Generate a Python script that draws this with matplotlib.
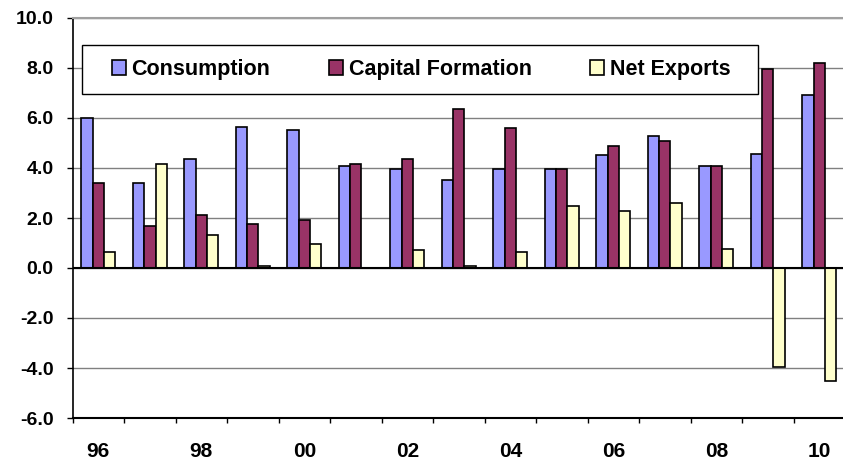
import matplotlib
matplotlib.use('Agg')
import matplotlib.pyplot as plt
from matplotlib.patches import Rectangle
import numpy as np

plt.rcParams['font.family'] = ['Liberation Sans', 'DejaVu Sans']
plt.rcParams['font.weight'] = 'bold'

# data (growth contributions, %)
years = ['96', '97', '98', '99', '00', '01', '02', '03', '04', '05', '06', '07', '08', '09', '10']
consumption = [6.0, 3.4, 4.37, 5.64, 5.5, 4.1, 3.96, 3.52, 3.96, 3.96, 4.51, 5.28, 4.09, 4.58, 6.92]
capital_formation = [3.4, 1.69, 2.11, 1.77, 1.91, 4.17, 4.37, 6.36, 5.59, 3.96, 4.87, 5.08, 4.09, 7.97, 8.2]
net_exports = [0.64, 4.17, 1.34, 0.08, 0.98, 0.0, 0.72, 0.08, 0.64, 2.47, 2.27, 2.61, 0.78, -3.95, -4.5]
series_names = ['Consumption', 'Capital Formation', 'Net Exports']
colors = ['#9999FF', '#993366', '#FFFFCC']

W, H = 843, 461
fig = plt.figure(figsize=(W / 100, H / 100), dpi=100)
ax = fig.add_axes([72.6 / W, (H - 418) / H, 772.4 / W, 400 / H])

x = np.arange(len(years))
width = 0.22
for i, (vals, name, col) in enumerate(zip([consumption, capital_formation, net_exports],
                                          series_names, colors)):
    ax.bar(x + (i - 1) * width, vals, width, color=col, edgecolor='black',
           linewidth=1.2, label=name, zorder=3)

ax.set_xlim(-0.5, len(years) - 0.5)
ax.set_ylim(-6, 10)
yt = np.arange(-6, 10.1, 2)
ax.set_yticks(yt)
ax.set_yticklabels([f'{v:.1f}' for v in yt], fontsize=14, fontweight='bold')

# labels on every other year, tick marks at category boundaries
ax.set_xticks(x)
ax.set_xticklabels([y if i % 2 == 0 else '' for i, y in enumerate(years)],
                   fontsize=15, fontweight='bold')
ax.set_xticks(np.arange(-0.5, len(years), 1), minor=True)
ax.tick_params(axis='x', which='major', length=0, pad=17)
ax.tick_params(axis='x', which='minor', length=3.6, width=1, color='black')
ax.tick_params(axis='y', length=4.3, width=1, pad=9.5, color='black')

ax.grid(axis='y', color='#808080', linewidth=1, zorder=0)
ax.axhline(0, color='black', linewidth=1.5, zorder=4)
ax.spines['right'].set_visible(False)
ax.spines['top'].set_color('#A0A0A0')
ax.spines['top'].set_linewidth(1.5)
ax.spines['left'].set_linewidth(1.2)
ax.spines['bottom'].set_linewidth(1.5)

# legend box drawn separately, entries placed inside it
ax.add_patch(Rectangle((0.0118, 0.809), 0.875, 0.1233, transform=ax.transAxes,
                       facecolor='white', edgecolor='black', linewidth=1, zorder=5))
fs = 15.5
leg = ax.legend(ncol=3, loc='center left', bbox_to_anchor=(0.0506, 0.8708),
                borderaxespad=0, borderpad=0, frameon=False,
                handlelength=0.65, handleheight=0.65, handletextpad=0.26,
                columnspacing=2.73, prop={'weight': 'bold', 'size': fs})
leg.set_zorder(6)

fig.savefig('out.png', dpi=100)
